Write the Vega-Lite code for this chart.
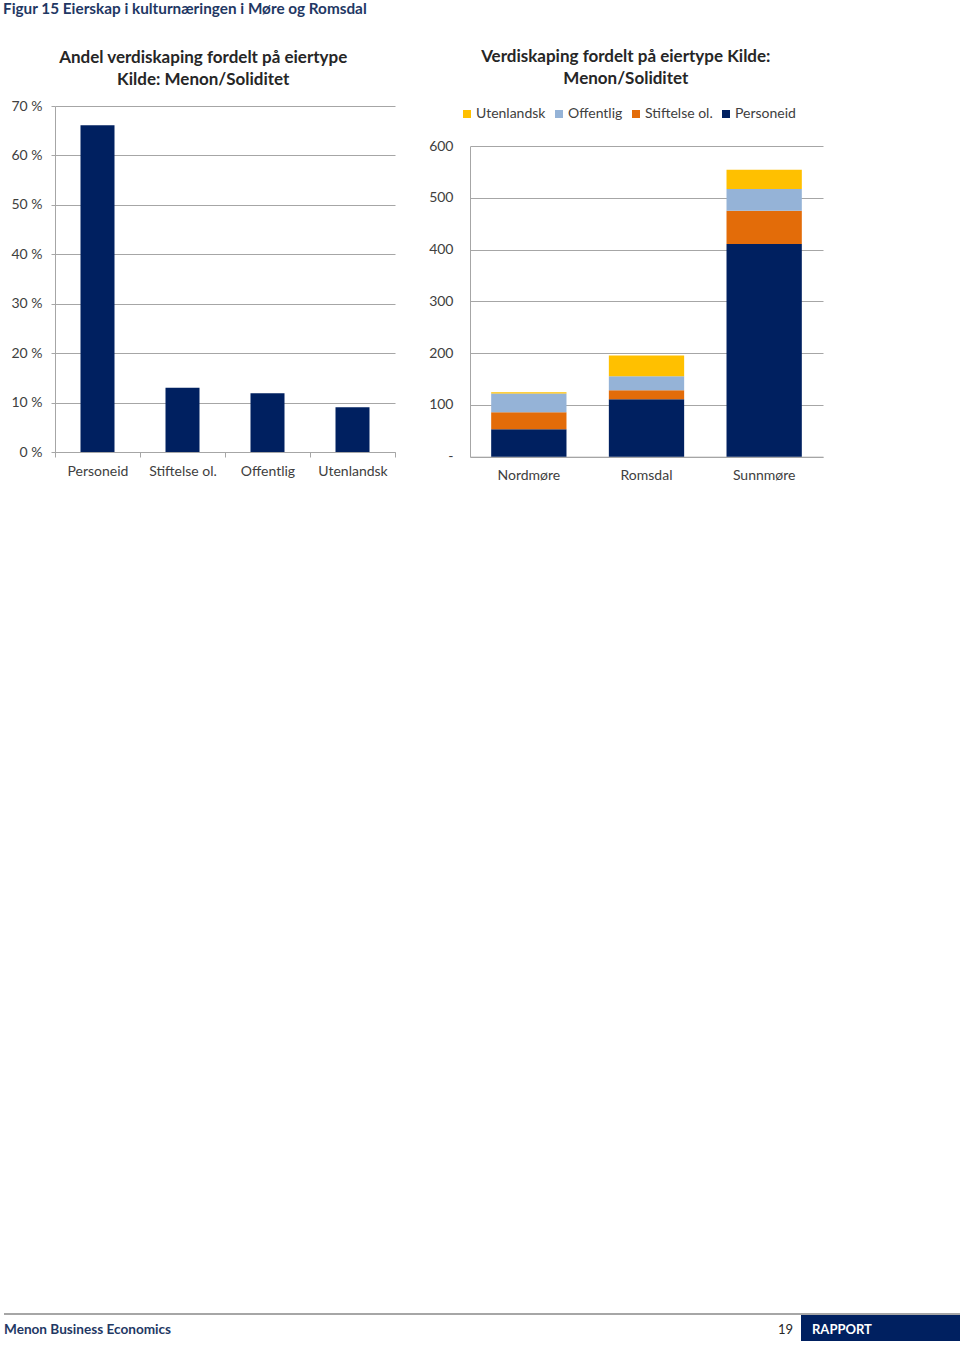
{
  "$schema": "https://vega.github.io/schema/vega-lite/v6.json",
  "padding": {"left": 3, "top": 1, "right": 0, "bottom": 0},
  "background": "white",
  "config": {
    "font": "Lato",
    "view": {"stroke": null},
    "axis": {"labelFont": "Lato", "labelFontSize": 14, "labelColor": "#404040", "gridColor": "#a6a6a6", "domainColor": "#a6a6a6", "tickColor": "#a6a6a6", "title": null},
    "title": {"font": "Lato", "fontSize": 17, "fontWeight": "bold", "color": "#262626", "lineHeight": 22},
    "legend": {"labelFont": "Lato", "labelFontSize": 14, "labelColor": "#404040"}
  },
  "title": {"text": "Figur 15 Eierskap i kulturnæringen i Møre og Romsdal", "anchor": "start", "frame": "bounds", "fontSize": 15.3, "color": "#1F3864", "offset": 31},
  "vconcat": [
    {
      "hconcat": [
        {
          "width": 340,
          "height": 346,
          "title": {"text": ["Andel verdiskaping fordelt på eiertype", "Kilde: Menon/Soliditet"], "anchor": "middle", "frame": "bounds", "offset": 10},
          "data": {"values": [
            {"eiertype": "Personeid", "andel": 0.661},
            {"eiertype": "Stiftelse ol.", "andel": 0.130},
            {"eiertype": "Offentlig", "andel": 0.119},
            {"eiertype": "Utenlandsk", "andel": 0.0905}
          ]},
          "mark": {"type": "bar", "color": "#002060", "width": {"band": 0.4}},
          "encoding": {
            "x": {"field": "eiertype", "type": "nominal", "sort": ["Personeid", "Stiftelse ol.", "Offentlig", "Utenlandsk"],
                  "scale": {"paddingInner": 0, "paddingOuter": 0},
                  "axis": {"labelAngle": 0, "tickBand": "extent", "ticks": true, "tickSize": 5, "labelPadding": 7}},
            "y": {"field": "andel", "type": "quantitative", "scale": {"domain": [0, 0.7], "nice": false},
                  "axis": {"values": [0, 0.1, 0.2, 0.3, 0.4, 0.5, 0.6, 0.7], "labelExpr": "format(datum.value*100, '.0f') + ' %'", "grid": true, "ticks": true, "tickSize": 4, "labelPadding": 9}}
          }
        },
        {
          "width": 353,
          "height": 350.7,
          "title": {"text": ["Verdiskaping fordelt på eiertype Kilde:", "Menon/Soliditet"], "anchor": "middle", "frame": "bounds", "offset": 18},
          "data": {"values": [
            {"region": "Nordmøre", "eiertype": "Personeid", "verdiskaping": 53},
            {"region": "Nordmøre", "eiertype": "Stiftelse ol.", "verdiskaping": 33},
            {"region": "Nordmøre", "eiertype": "Offentlig", "verdiskaping": 36},
            {"region": "Nordmøre", "eiertype": "Utenlandsk", "verdiskaping": 2.5},
            {"region": "Romsdal", "eiertype": "Personeid", "verdiskaping": 111},
            {"region": "Romsdal", "eiertype": "Stiftelse ol.", "verdiskaping": 17.5},
            {"region": "Romsdal", "eiertype": "Offentlig", "verdiskaping": 27},
            {"region": "Romsdal", "eiertype": "Utenlandsk", "verdiskaping": 40},
            {"region": "Sunnmøre", "eiertype": "Personeid", "verdiskaping": 411},
            {"region": "Sunnmøre", "eiertype": "Stiftelse ol.", "verdiskaping": 64.5},
            {"region": "Sunnmøre", "eiertype": "Offentlig", "verdiskaping": 42},
            {"region": "Sunnmøre", "eiertype": "Utenlandsk", "verdiskaping": 37}
          ]},
          "transform": [
            {"joinaggregate": [{"op": "sum", "field": "verdiskaping", "as": "total_eiertype"}], "groupby": ["eiertype"]}
          ],
          "mark": {"type": "bar"},
          "encoding": {
            "x": {"field": "region", "type": "nominal", "sort": ["Nordmøre", "Romsdal", "Sunnmøre"],
                  "scale": {"paddingInner": 0.36, "paddingOuter": 0.18},
                  "axis": {"labelAngle": 0, "ticks": false, "labelPadding": 12}},
            "y": {"field": "verdiskaping", "type": "quantitative", "stack": "zero",
                  "scale": {"domain": [0, 600], "range": [350.7, 40.2], "nice": false},
                  "axis": {"values": [0, 100, 200, 300, 400, 500, 600], "grid": true, "ticks": false, "labelPadding": 17,
                           "labelExpr": "datum.value == 0 ? '-\u00a0\u00a0' : datum.label"}},
            "order": {"field": "total_eiertype", "type": "quantitative", "sort": "descending"},
            "color": {"field": "eiertype", "type": "nominal", "sort": ["Utenlandsk", "Offentlig", "Stiftelse ol.", "Personeid"],
                      "scale": {"domain": ["Utenlandsk", "Offentlig", "Stiftelse ol.", "Personeid"], "range": ["#FFC000", "#95B3D7", "#E36C09", "#002060"]},
                      "legend": {"title": null, "orient": "none", "direction": "horizontal", "legendX": -10, "legendY": 1, "symbolType": "square", "symbolSize": 64, "symbolStrokeWidth": 0, "labelOffset": 2, "columnPadding": 6}}
          }
        }
      ],
      "resolve": {"legend": {"color": "independent"}, "scale": {"color": "independent"}},
      "spacing": 32
    },
    {
      "width": 905,
      "height": 27,
      "layer": [
        {
          "data": {"values": [{"del": "linje"}]},
          "mark": {"type": "rule", "color": "#a6a6a6", "strokeWidth": 2},
          "encoding": {
            "x": {"datum": 4, "type": "quantitative", "scale": {"domain": [55, 960], "nice": false, "zero": false}, "axis": null},
            "x2": {"datum": 960},
            "y": {"datum": 27, "type": "quantitative", "scale": {"domain": [0, 27], "nice": false, "zero": false}, "axis": null}
          }
        },
        {
          "data": {"values": [{"del": "boks"}]},
          "mark": {"type": "rect", "color": "#002060"},
          "encoding": {
            "x": {"datum": 801, "type": "quantitative"},
            "x2": {"datum": 960},
            "y": {"datum": 0, "type": "quantitative"},
            "y2": {"datum": 26}
          }
        },
        {
          "data": {"values": [{"tekst": "Menon Business Economics"}]},
          "mark": {"type": "text", "align": "left", "baseline": "middle", "font": "Lato", "fontWeight": "bold", "fontSize": 13.6, "color": "#1F3864"},
          "encoding": {
            "x": {"datum": 4, "type": "quantitative"},
            "y": {"datum": 11, "type": "quantitative"},
            "text": {"field": "tekst"}
          }
        },
        {
          "data": {"values": [{"tekst": "19"}]},
          "mark": {"type": "text", "align": "left", "baseline": "middle", "font": "Lato", "fontSize": 13, "color": "#262626"},
          "encoding": {
            "x": {"datum": 778, "type": "quantitative"},
            "y": {"datum": 11, "type": "quantitative"},
            "text": {"field": "tekst"}
          }
        },
        {
          "data": {"values": [{"tekst": "RAPPORT"}]},
          "mark": {"type": "text", "align": "left", "baseline": "middle", "font": "Lato", "fontWeight": "bold", "fontSize": 13, "color": "white"},
          "encoding": {
            "x": {"datum": 812, "type": "quantitative"},
            "y": {"datum": 11, "type": "quantitative"},
            "text": {"field": "tekst"}
          }
        }
      ]
    }
  ],
  "spacing": 830
}
